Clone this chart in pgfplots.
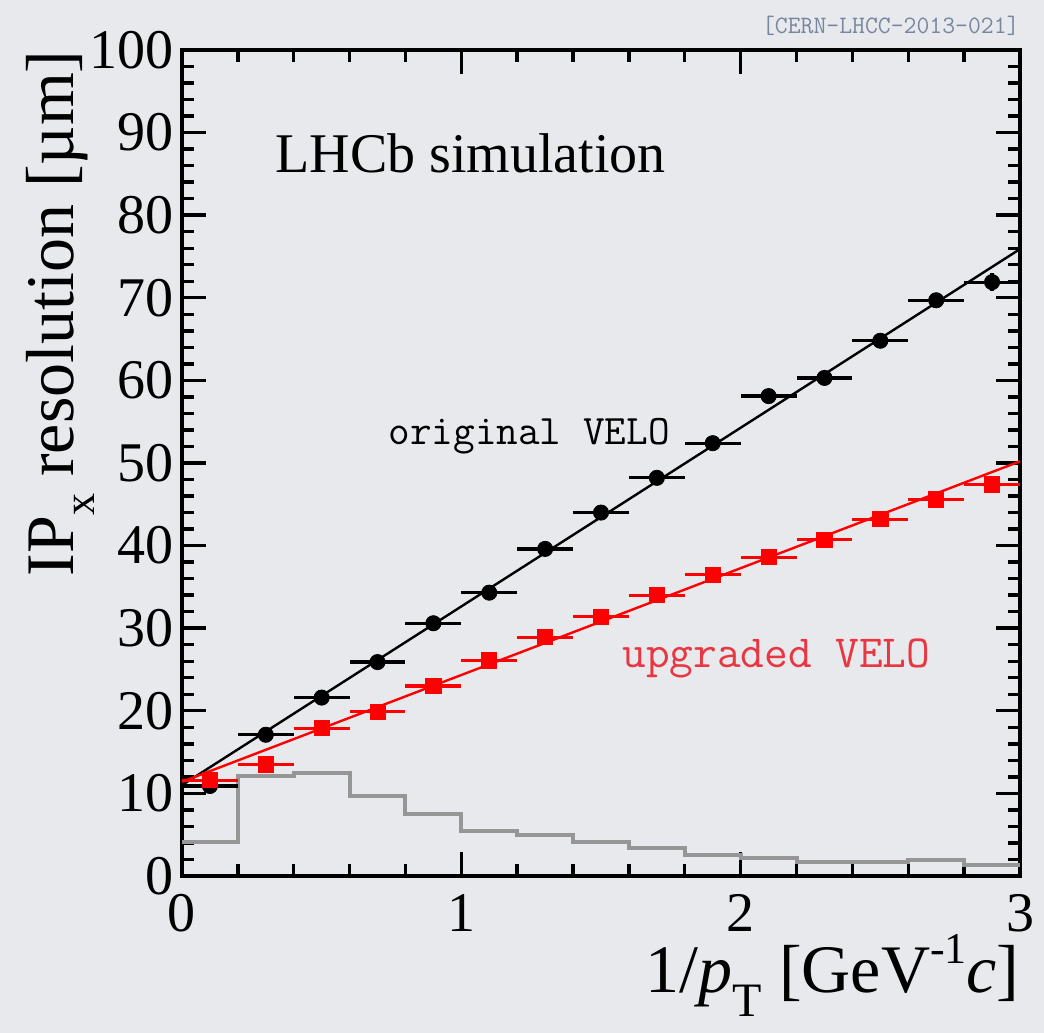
\documentclass[border=0pt]{standalone}
\usepackage{fontspec}
\setmainfont{Liberation Serif}
\usepackage{pgfplots}
\pgfplotsset{compat=1.18}
\definecolor{bggray}{RGB}{231,233,237}
\definecolor{histgray}{RGB}{150,150,150}
\definecolor{labelred}{RGB}{232,55,65}
\definecolor{cernblue}{RGB}{120,134,160}

\pgfplotstableread{
x    y     ex   ey
0.1  10.9  0.1  0.3
0.3  17.1  0.1  0.3
0.5  21.6  0.1  0.3
0.7  25.9  0.1  0.3
0.9  30.6  0.1  0.3
1.1  34.3  0.1  0.3
1.3  39.6  0.1  0.3
1.5  44.0  0.1  0.4
1.7  48.2  0.1  0.4
1.9  52.4  0.1  0.4
2.1  58.1  0.1  0.5
2.3  60.3  0.1  0.5
2.5  64.8  0.1  0.6
2.7  69.7  0.1  0.8
2.9  71.9  0.1  1.1
}\origvelo

\pgfplotstableread{
x    y     ex   ey
0.1  11.6  0.1  0.3
0.3  13.5  0.1  0.3
0.5  17.9  0.1  0.3
0.7  19.9  0.1  0.3
0.9  23.0  0.1  0.3
1.1  26.1  0.1  0.3
1.3  28.9  0.1  0.3
1.5  31.4  0.1  0.3
1.7  34.0  0.1  0.3
1.9  36.5  0.1  0.3
2.1  38.6  0.1  0.3
2.3  40.7  0.1  0.4
2.5  43.2  0.1  0.4
2.7  45.6  0.1  0.4
2.9  47.4  0.1  0.5
}\upgvelo

\begin{document}
\begin{tikzpicture}
\useasboundingbox (-91pt,-78.5pt) rectangle (431pt,438pt);
\fill[bggray] (-91pt,-78.5pt) rectangle (431pt,438pt);
\begin{axis}[
  at={(0,0)}, anchor=south west,
  scale only axis,
  width=419pt, height=413pt,
  xmin=0, xmax=3, ymin=0, ymax=100,
  xtick={0,1,2,3},
  ytick={0,10,...,100},
  minor x tick num=4,
  minor y tick num=4,
  tick align=inside,
  major tick length=12pt,
  minor tick length=6pt,
  axis line style={line width=2pt},
  every tick/.style={black, line width=1.7pt},
  /pgf/number format/assume math mode=true,
  ticklabel style={font=\fontsize{28}{28}\selectfont},
  yticklabel style={inner sep=0pt, xshift=-4pt},
  xticklabel style={inner sep=0pt, yshift=-9pt},
  clip=false,
]
  % acceptance histogram (arbitrary units)
  \addplot[const plot, histgray, line width=2pt] coordinates {
    (0,4.1) (0.2,12.1) (0.4,12.5) (0.6,9.7) (0.8,7.5) (1.0,5.4)
    (1.2,5.0) (1.4,4.1) (1.6,3.4) (1.8,2.5) (2.0,2.2) (2.2,1.7)
    (2.4,1.7) (2.6,1.9) (2.8,1.3) (3.0,1.3)
  };
  % linear fits
  \addplot[black, line width=1.2pt] coordinates {(0,11.0) (3,75.9)};
  \addplot[red, line width=1.2pt] coordinates {(0,11.4) (3,50.2)};
  % original VELO
  \addplot[black, only marks, mark=*, mark size=3.8pt,
    error bars/.cd, x dir=both, x explicit, y dir=both, y explicit,
    error mark=none, error bar style={line width=1.6pt, black}]
    table[x=x, y=y, x error=ex, y error=ey] {\origvelo};
  % upgraded VELO
  \addplot[red, only marks, mark=square*, mark size=3.8pt,
    error bars/.cd, x dir=both, x explicit, y dir=both, y explicit,
    error mark=none, error bar style={line width=1.6pt, red}]
    table[x=x, y=y, x error=ex, y error=ey] {\upgvelo};

  \node[anchor=base west, inner sep=0pt, font=\fontsize{28}{28}\selectfont]
    at (axis cs:0.333,85.2) {LHCb simulation};
  \node[anchor=base west, inner sep=0pt, font=\ttfamily\fontsize{21}{21}\selectfont]
    at (axis cs:0.738,52.2) {original VELO};
  \node[anchor=base west, inner sep=0pt, text=labelred, font=\ttfamily\fontsize{23}{23}\selectfont]
    at (axis cs:1.575,25.2) {upgraded VELO};
\end{axis}

% axis titles
\node[anchor=base east, inner sep=0pt, font=\fontsize{34}{34}\selectfont]
  at (419pt,-58pt)
  {1/\textit{p}\raisebox{-0.36em}{\fontsize{24}{24}\selectfont T} [GeV\raisebox{0.42em}{\fontsize{22}{22}\selectfont -1}\textit{c}]};
\node[anchor=base east, rotate=90, inner sep=0pt, font=\fontsize{34}{34}\selectfont]
  at (-54pt,413pt)
  {IP\raisebox{-0.3em}{\fontsize{22}{22}\selectfont x} resolution [µm]};
\node[anchor=base east, inner sep=0pt, text=cernblue, font=\ttfamily\fontsize{12.5}{12.5}\selectfont]
  at (419pt,421pt) {[CERN-LHCC-2013-021]};
\end{tikzpicture}
\end{document}
